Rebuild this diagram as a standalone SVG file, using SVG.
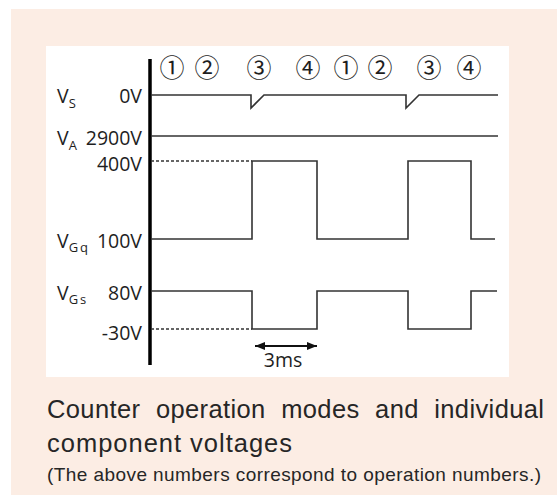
<svg xmlns="http://www.w3.org/2000/svg" width="557" height="495" viewBox="0 0 557 495">
<style>
.lbl{font-family:"Open Sans","Liberation Sans",sans-serif;font-size:19.5px;fill:#1e1e1e}
.sub{font-family:"Open Sans","Liberation Sans",sans-serif;font-size:13px;fill:#1e1e1e}
.num{font-family:"Noto Sans CJK JP","DejaVu Sans",sans-serif;font-size:25px;fill:#1e1e1e;text-anchor:middle}
.wave{fill:none;stroke:#333;stroke-width:1.6}
.dash{fill:none;stroke:#333;stroke-width:1.4;stroke-dasharray:3 2}
.cap{font-family:"Liberation Sans",Arial,sans-serif;fill:#262626}
</style>
<defs>
<marker id="ah" viewBox="0 0 10 8" refX="10" refY="4" markerWidth="10" markerHeight="8" markerUnits="userSpaceOnUse" orient="auto-start-reverse">
<path d="M0,0 L10,4 L0,8 z" fill="#111"/>
</marker>
</defs>
<rect x="11" y="9" width="546" height="486" fill="#fcede4"/>
<rect x="46" y="46" width="463" height="331" fill="#ffffff"/>
<g id="axis"><line x1="150" y1="59" x2="150" y2="365" stroke="#000" stroke-width="3.5"/></g>
<g id="modes">
<text class="num" x="172" y="77">①</text>
<text class="num" x="207" y="77">②</text>
<text class="num" x="259" y="77">③</text>
<text class="num" x="308" y="77">④</text>
<text class="num" x="346" y="77">①</text>
<text class="num" x="380" y="77">②</text>
<text class="num" x="429" y="77">③</text>
<text class="num" x="469" y="77">④</text>
</g>
<g id="labels">
<text class="lbl" x="57" y="103">V<tspan class="sub" dy="5">S</tspan></text>
<text class="lbl" x="142" y="103" text-anchor="end">0V</text>
<text class="lbl" x="57" y="145">V<tspan class="sub" dy="5">A</tspan></text>
<text class="lbl" x="142" y="145" text-anchor="end">2900V</text>
<text class="lbl" x="142" y="171" text-anchor="end">400V</text>
<text class="lbl" x="57" y="248">V<tspan class="sub" dy="4" letter-spacing="2">Gq</tspan></text>
<text class="lbl" x="142" y="248" text-anchor="end">100V</text>
<text class="lbl" x="57" y="300">V<tspan class="sub" dy="4" letter-spacing="2">Gs</tspan></text>
<text class="lbl" x="142" y="300" text-anchor="end">80V</text>
<text class="lbl" x="142" y="340" text-anchor="end">-30V</text>
</g>
<g id="connectors">
<path id="vs" class="wave" d="M151,95 H251 V108 L264,95 H406 V108 L419,95 H498"/>
<path id="va" class="wave" d="M151,136 H498"/>
<path id="vgq" class="wave" d="M151,239 H252 V161 H317 V239 H408 V161 H471 V239 H495"/>
<path class="dash" d="M151,161 H252"/>
<path id="vgs" class="wave" d="M151,291 H252 V329 H317 V291 H408 V329 H471 V291 H497"/>
<path class="dash" d="M151,329 H252"/>
<line x1="255" y1="346" x2="317" y2="346" stroke="#111" stroke-width="1.8" marker-start="url(#ah)" marker-end="url(#ah)"/>
</g>
<text class="lbl" x="283" y="367" text-anchor="middle">3ms</text>
<g id="caption">
<text class="cap" x="47" y="418" font-size="25.5" word-spacing="8" textLength="497" lengthAdjust="spacing">Counter operation modes and individual</text>
<text class="cap" x="47" y="452" font-size="25.5" textLength="245" lengthAdjust="spacing">component voltages</text>
<text class="cap" x="47" y="481" font-size="19" fill="#444" textLength="494" lengthAdjust="spacing">(The above numbers correspond to operation numbers.)</text>
</g>
</svg>
